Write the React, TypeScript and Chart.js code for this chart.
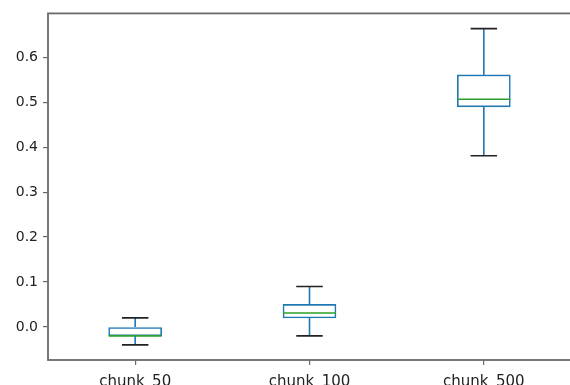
import React, { useEffect, useRef } from "react";
import { Chart, registerables } from "chart.js";

Chart.register(...registerables);

const categories = ["chunk_50", "chunk_100", "chunk_500"];
const whiskerLow = [-0.04, -0.02, 0.381];
const q1 = [-0.02, 0.02, 0.49];
const median = [-0.02, 0.031, 0.507];
const q3 = [0.0, 0.05, 0.561];
const whiskerHigh = [0.02, 0.09, 0.664];
const yTicks = [0.0, 0.1, 0.2, 0.3, 0.4, 0.5, 0.6];

const BLUE = "#1f77b4";
const GREEN = "#2ca02c";
const CAP = "#222222";
const SPINE = "#6a6a6a";

const boxPlugin = {
  id: "boxExtras",
  afterDatasetsDraw(chart: any) {
    const ctx = chart.ctx;
    const y = chart.scales.y;
    const meta = chart.getDatasetMeta(0);
    ctx.save();
    ctx.lineCap = "butt";
    meta.data.forEach((bar: any, i: number) => {
      const cx = bar.x;
      const half = bar.width / 2;
      const pHi = y.getPixelForValue(whiskerHigh[i]);
      const pLo = y.getPixelForValue(whiskerLow[i]);
      const pQ1 = y.getPixelForValue(q1[i]);
      const pQ3 = y.getPixelForValue(q3[i]);
      const pMed = y.getPixelForValue(median[i]);
      ctx.lineWidth = 1.6;
      ctx.strokeStyle = BLUE;
      ctx.beginPath();
      ctx.moveTo(cx, pQ3);
      ctx.lineTo(cx, pHi);
      ctx.moveTo(cx, pQ1);
      ctx.lineTo(cx, pLo);
      ctx.stroke();
      ctx.strokeStyle = CAP;
      ctx.beginPath();
      ctx.moveTo(cx - half / 2, pHi);
      ctx.lineTo(cx + half / 2, pHi);
      ctx.moveTo(cx - half / 2, pLo);
      ctx.lineTo(cx + half / 2, pLo);
      ctx.stroke();
      ctx.strokeStyle = GREEN;
      ctx.beginPath();
      ctx.moveTo(cx - half, pMed);
      ctx.lineTo(cx + half, pMed);
      ctx.stroke();
    });
    ctx.restore();
  },
  afterDraw(chart: any) {
    const { left, top, right, bottom } = chart.chartArea;
    const ctx = chart.ctx;
    ctx.save();
    ctx.strokeStyle = SPINE;
    ctx.lineWidth = 1.8;
    ctx.strokeRect(left, top, right - left, bottom - top);
    ctx.restore();
  },
};

export default function App() {
  const ref = useRef<HTMLCanvasElement | null>(null);
  useEffect(() => {
    if (!ref.current) return;
    const chart = new Chart(ref.current, {
      type: "bar",
      data: {
        labels: categories,
        datasets: [
          {
            data: q1.map((v, i) => [v, q3[i]]) as any,
            backgroundColor: "#ffffff",
            borderColor: BLUE,
            borderWidth: 1.6,
            borderSkipped: false,
            barThickness: 53,
          },
        ],
      },
      options: {
        responsive: false,
        animation: false,
        layout: { padding: { top: 13, right: 4, left: 0, bottom: 0 } },
        plugins: { legend: { display: false }, tooltip: { enabled: false } },
        scales: {
          x: {
            type: "category",
            offset: true,
            grid: {
              offset: false,
              drawOnChartArea: false,
              drawTicks: true,
              tickLength: 5,
              color: SPINE,
              lineWidth: 1.2,
            },
            border: { display: false },
            ticks: {
              padding: 8,
              color: "#222222",
              font: { family: "DejaVu Sans", size: 15 },
              maxRotation: 0,
            },
            afterFit(scale: any) {
              scale.height = 25;
            },
          },
          y: {
            type: "linear",
            min: -0.0737,
            max: 0.698,
            grid: {
              drawOnChartArea: false,
              drawTicks: true,
              tickLength: 5,
              color: SPINE,
              lineWidth: 1.2,
            },
            border: { display: false },
            ticks: {
              padding: 5,
              color: "#222222",
              font: { family: "DejaVu Sans", size: 14 },
              callback: (v: any) => Number(v).toFixed(1),
            },
            afterBuildTicks(scale: any) {
              scale.ticks = yTicks.map((v) => ({ value: v }));
            },
            afterFit(scale: any) {
              scale.width = 48;
            },
          },
        },
      },
      plugins: [boxPlugin],
    });
    return () => chart.destroy();
  }, []);
  return (
    <div
      style={{
        position: "absolute",
        left: 0,
        top: 0,
        width: 570,
        height: 385,
        overflow: "hidden",
        background: "#ffffff",
      }}
    >
      <canvas ref={ref} width={575} height={385} style={{ width: 575, height: 385, display: "block" }} />
    </div>
  );
}
